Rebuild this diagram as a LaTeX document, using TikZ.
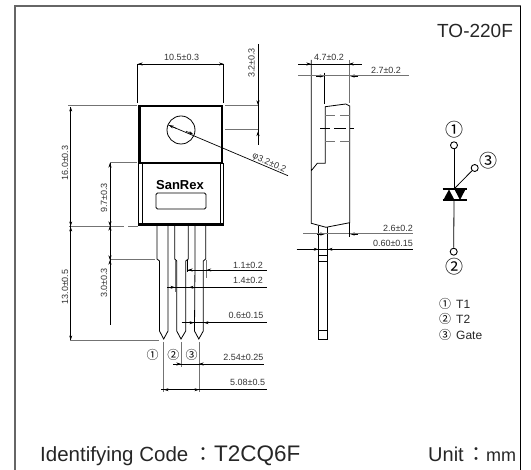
\documentclass[tikz,border=0pt]{standalone}
\usepackage{fontspec}
\setmainfont{Liberation Sans}
\newfontfamily\cjk{Noto Sans CJK JP}
\usetikzlibrary{arrows.meta}
\tikzset{
    outline/.style={draw=black, line width=0.8pt},
    heavyline/.style={draw=black, line width=2.6pt},
    extline/.style={draw=black!55, line width=1pt},
    dimline/.style={draw=black, line width=0.7pt},
    dimtip/.style={draw=black, line width=0.6pt, -{Stealth[length=4.5pt,width=3pt]}},
    dimlabel/.style={inner sep=0pt, text=black!80, font=\fontsize{9}{9}\selectfont},
    terminal/.style={circle, draw, line width=0.9pt, minimum size=7pt, inner sep=0pt},
    pinmark/.style={inner sep=0pt, font=\cjk\fontsize{18}{18}\selectfont},
    smallmark/.style={inner sep=0pt, font=\cjk\fontsize{12}{12}\selectfont},
    legend/.style={inner sep=0pt, anchor=west, text=black!85, font=\fontsize{12}{12}\selectfont},
    bigtext/.style={inner sep=0pt, anchor=base west, text=black!85},
    colontext/.style={inner sep=0pt, anchor=base, text=black!85, font=\cjk\fontsize{20}{20}\selectfont}
}
\begin{document}
\begin{tikzpicture}[x=1pt,y=-1pt]
    \useasboundingbox (0,0) rectangle (531,470);
    % frame
    \draw[draw=black!60, line width=2pt] (15,470) -- (15,6.5) -- (521,6.5);
    \draw[dimline] (520.5,6) -- (520.5,470);
    \node[bigtext, font=\fontsize{19}{19}\selectfont] (partname) at (437,38) {TO-220F};

    % front view, head and body
    \draw[heavyline] (139.5,106) rectangle (222,163);
    \draw[outline] (181,130) circle[radius=14];
    \draw[outline] (138,163) -- (138,225);
    \draw[outline] (142,163) -- (142,225);
    \draw[outline] (220,163) -- (220,225);
    \draw[outline] (223.5,163) -- (223.5,225);
    \draw[heavyline] (138,224.5) -- (223.5,224.5);
    \node[inner sep=0pt, font=\bfseries\fontsize{13}{13}\selectfont] (maker) at (180,185) {SanRex};
    \draw[outline, rounded corners=1.5pt] (156,193) rectangle (206,209);

    % front view, leads
    \draw[outline] (157,226) -- (157,259) -- (159.5,261) -- (159.5,331) -- (163.7,339) -- (168,331) -- (168,226);
    \draw[outline] (174.7,226) -- (174.7,259) -- (176.7,261) -- (176.7,331) -- (181,339) -- (185.7,331) -- (185.7,261) -- (188.3,259) -- (188.3,226);
    \draw[outline] (195,226) -- (195,261) -- (194.5,331) -- (198.8,339) -- (203.3,331) -- (203.3,261) -- (205.7,259) -- (205.7,226);

    % extension lines
    \draw[dimline] (137.7,64) -- (137.7,103);
    \draw[dimline] (223.7,64) -- (223.7,103);
    \draw[extline] (225,106) -- (258,106);
    \draw[extline] (225,130) -- (258,130);
    \draw[extline] (68,106) -- (137,106);
    \draw[extline] (110,162.5) -- (137,162.5);
    \draw[extline] (69,226.5) -- (124,226.5);
    \draw[extline] (128,226.5) -- (138,226.5);
    \draw[extline] (110,260) -- (155,260);
    \draw[extline] (70,341) -- (159,341);
    \draw[dimline] (187.3,260) -- (187.3,272);
    \draw[extline] (206,260) -- (206,278);
    \draw[extline] (175,260) -- (175,292);
    \draw[extline] (163.7,342) -- (163.7,392);
    \draw[extline] (181.7,342) -- (181.7,367);
    \draw[extline] (199,342) -- (199,392);

    % dimension lines, front view
    \draw[dimline] (137.7,64) -- (223.7,64);
    \draw[dimline] (258,44) -- (258,145);
    \draw[dimline] (70.7,107) -- (70.7,340);
    \draw[dimline] (110,163) -- (110,325);
    \draw[dimline] (188,270) -- (267,270);
    \draw[dimline] (167,287.3) -- (267,287.3);
    \draw[dimline] (181.7,322.7) -- (267,322.7);
    \draw[dimline] (177.3,364) -- (264,364);
    \draw[dimline] (161,389.7) -- (267,389.7);
    \draw[dimline] (168.3,125) -- (288,175.7);

    % arrow heads, horizontal then vertical (from, to)
    \foreach \fx/\tx/\ty in {145/138/64, 216/223.7/64,
        197/188/270, 215/206.7/270, 167/175/287.3, 197/189/287.3,
        186/194/322.7, 212/204/322.7, 173/181/364, 207/199/364,
        172/164/389.7, 191/199/389.7,
        303/311/64, 357/349/64, 316/324.3/76, 358/350/76,
        317/325/234, 358/350/234, 310/318.3/249.3, 336/328/249.3}
        \draw[dimtip] (\fx,\ty) -- (\tx,\ty);
    \foreach \vx/\fy/\ty in {70.7/114/107, 70.7/219/226, 70.7/234/227, 70.7/333/340,
        110/170/163, 110/219/226, 110/233/226, 110/253/260, 110/267/260,
        258/97/105, 258/139/131.5}
        \draw[dimtip] (\vx,\fy) -- (\vx,\ty);
    \draw[dimtip] (176.5,128.5) -- (169,125.3);
    \draw[dimtip] (186,131.2) -- (193.3,134.3);

    % dimension texts, front view
    \node[dimlabel] (widthtext) at (181.7,57) {10.5±0.3};
    \node[dimlabel, rotate=90] (holetext) at (251.5,63) {3.2±0.3};
    \node[dimlabel, rotate=90] (heighttext) at (65,163) {16.0±0.3};
    \node[dimlabel, rotate=90] (bodytext) at (104,198) {9.7±0.3};
    \node[dimlabel, rotate=90] (shouldertext) at (104,283) {3.0±0.3};
    \node[dimlabel, rotate=90] (leadtext) at (65,287) {13.0±0.5};
    \node[dimlabel, rotate=-24] (boretext) at (269,163) {φ3.2±0.2};
    \node[dimlabel] (wtext) at (248,265) {1.1±0.2};
    \node[dimlabel] (stext) at (248,280.7) {1.4±0.2};
    \node[dimlabel] (ttext) at (246,315.7) {0.6±0.15};
    \node[dimlabel] (ptext) at (243.3,357.7) {2.54±0.25};
    \node[dimlabel] (qtext) at (247.7,382.7) {5.08±0.5};
    \node[smallmark] (lead1) at (152.7,355) {①};
    \node[smallmark] (lead2) at (173.3,355) {②};
    \node[smallmark] (lead3) at (191.7,355) {③};

    % side view
    \draw[outline] (311.3,60) -- (311.3,170.7) -- (317.3,163.3) -- (325.3,163.3) -- (325.3,106.7) -- (345.7,104) -- (349.7,106) -- (349.7,222.7) -- (326,227.3) -- (311.3,223.3) -- (311.3,170.7);
    \draw[dimline] (324.7,72.7) -- (324.7,104);
    \draw[extline] (349,60) -- (349,103);
    \draw[outline] (318.5,226) -- (318.5,339.3) -- (327.7,339.3) -- (327.7,227);
    \draw[outline] (318.5,255.3) -- (327.7,255.3);
    \draw[outline] (318.5,261.5) -- (327.7,261.5);
    \draw[outline] (318.5,330.7) -- (327.7,330.7);
    \draw[extline] (325,116) -- (335,116);
    \draw[extline] (340,116) -- (350,116);
    \draw[extline] (325,141.7) -- (335,141.7);
    \draw[extline] (340,141.7) -- (350,141.7);
    \draw[outline] (320,128.7) -- (330,128.7);
    \draw[outline] (334,128.7) -- (346,128.7);
    \draw[outline] (350,128.7) -- (354,128.7);

    % dimension lines, side view
    \draw[dimline] (298,64) -- (361.7,64);
    \draw[extline] (298,76) -- (409,76);
    \draw[extline] (303.3,234) -- (413,234);
    \draw[dimline] (296.7,249.3) -- (413,249.3);
    \draw[dimline] (349.3,223) -- (349.3,237);
    \node[dimlabel] (deptext) at (329,57.7) {4.7±0.2};
    \node[dimlabel] (fronttext) at (386,70.7) {2.7±0.2};
    \node[dimlabel] (backtext) at (398,228) {2.6±0.2};
    \node[dimlabel] (thintext) at (393,243) {0.60±0.15};

    % triac symbol
    \node[terminal] (t1) at (454,145.3) {};
    \node[terminal] (t2) at (453.7,251.7) {};
    \node[terminal] (gate) at (474.7,168) {};
    \coordinate (topbar) at (454,189);
    \coordinate (lowbar) at (454,200);
    \draw[outline] (t1) -- (topbar);
    \draw[outline] (lowbar) -- (t2);
    \draw[outline] (gate) -- (topbar);
    \draw[line width=1.2pt] (442.7,189) -- (466.7,189);
    \draw[line width=1.2pt] (442.7,200) -- (466.7,200);
    \fill (449,189.5) -- (443.3,200) -- (454.5,200) -- cycle;
    \fill (454.3,189) -- (465.7,189) -- (460,200) -- cycle;
    \node[pinmark] (mark1) at (454,130) {①};
    \node[pinmark] (mark2) at (454,266.7) {②};
    \node[pinmark] (mark3) at (488,160.7) {③};

    % pin names
    \node[smallmark] (key1) at (445,304) {①};
    \node[smallmark] (key2) at (445,319.3) {②};
    \node[smallmark] (key3) at (445,335) {③};
    \node[legend] (name1) at (456,304) {T1};
    \node[legend] (name2) at (456,319.3) {T2};
    \node[legend] (name3) at (456,335) {Gate};

    % bottom line
    \node[bigtext, font=\fontsize{20.5}{20.5}\selectfont] (idtext) at (40,461.7) {Identifying Code};
    \node[colontext] (idcolon) at (203,461.7) {：};
    \node[bigtext, font=\fontsize{22.5}{22.5}\selectfont] (idcode) at (214,461.7) {T2CQ6F};
    \node[bigtext, font=\fontsize{20}{20}\selectfont] (unittext) at (428,461.7) {Unit};
    \node[colontext] (unitcolon) at (476.5,461.7) {：};
    \node[bigtext, font=\fontsize{18}{18}\selectfont] (unitname) at (486,461.7) {mm};
\end{tikzpicture}
\end{document}
